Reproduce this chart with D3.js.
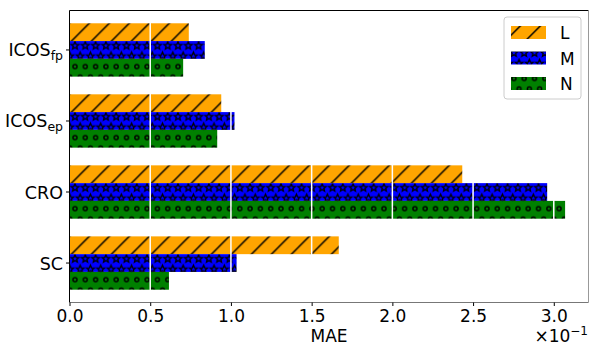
<!DOCTYPE html>
<html>
<head>
<meta charset="utf-8">
<script src="https://cdn.jsdelivr.net/npm/d3@7"></script>
<style>
  body { margin: 0; background: #fff; }
  svg { display: block; font-family: "DejaVu Sans", sans-serif; }
</style>
</head>
<body>
<svg id="chart" width="590" height="346"></svg>
<script>
const categories = ["ICOS_fp", "ICOS_ep", "CRO", "SC"]
const labelMain = ["ICOS", "ICOS", "CRO", "SC"]
const labelSub = ["fp", "ep", "", ""]
const series = ["L", "M", "N"]
const valuesL = [0.739, 0.94, 2.433, 1.668]
const valuesM = [0.838, 1.022, 2.959, 1.035]
const valuesN = [0.704, 0.915, 3.07, 0.616]
const xTicks = [0, 0.5, 1.0, 1.5, 2.0, 2.5, 3.0]

const colors = { L: "#ffa500", M: "#0000ff", N: "#008000" }
const valuesBy = { L: valuesL, M: valuesM, N: valuesN }

const svg = d3.select("#chart")
const pLeft = 69.5, pRight = 588.5, pTop = 10.5, pBottom = 302.5

const x = d3.scaleLinear().domain([0, 3.215]).range([pLeft, pRight])
const y = d3.scaleBand().domain(categories).range([pTop, pBottom])
  .paddingInner(0.249).paddingOuter(0.18)
const ySub = d3.scaleBand().domain(series).range([0, y.bandwidth()])

// hatch patterns
const defs = svg.append("defs")

const slash = defs.append("pattern").attr("id", "pat-L")
  .attr("patternUnits", "userSpaceOnUse")
  .attr("x", 9.3).attr("y", 0).attr("width", 20).attr("height", 20)
slash.append("rect").attr("width", 20).attr("height", 20).attr("fill", colors.L)
slash.selectAll("line").data([[0, 20, 20, 0], [-2, 2, 2, -2], [18, 22, 22, 18]])
  .enter().append("line")
  .attr("x1", d => d[0]).attr("y1", d => d[1])
  .attr("x2", d => d[2]).attr("y2", d => d[3])
  .attr("stroke", "#000").attr("stroke-width", 1.5)

const pw = 10.3, ph = 20.9
const offsets = []
for (let i = -1; i <= 1; i++)
  for (let j = -1; j <= 1; j++) {
    offsets.push([i * pw, j * ph])
    offsets.push([i * pw + pw / 2, j * ph + ph / 2])
  }

const starPath = r => {
  let pts = []
  for (let k = 0; k < 10; k++) {
    let a = -Math.PI / 2 + k * Math.PI / 5
    let rr = k % 2 === 0 ? r : r * 0.45
    pts.push([rr * Math.cos(a), rr * Math.sin(a)])
  }
  return "M" + pts.map(p => p.join(",")).join("L") + "Z"
}

const makeShapes = (id, color, draw) => {
  let p = defs.append("pattern").attr("id", id)
    .attr("patternUnits", "userSpaceOnUse")
    .attr("x", 75).attr("y", 43.3).attr("width", pw).attr("height", ph)
  p.append("rect").attr("width", pw).attr("height", ph).attr("fill", color)
  offsets.forEach(o => draw(p, o))
}

makeShapes("pat-M", colors.M, (p, o) => p.append("path")
  .attr("d", starPath(4))
  .attr("transform", "translate(" + o[0] + "," + o[1] + ")")
  .attr("fill", "none").attr("stroke", "#000").attr("stroke-width", 1.3))

makeShapes("pat-N", colors.N, (p, o) => p.append("circle")
  .attr("cx", o[0]).attr("cy", o[1]).attr("r", 2)
  .attr("fill", "none").attr("stroke", "#000").attr("stroke-width", 1.4))

// bars
const groups = svg.append("g").selectAll("g").data(categories).enter().append("g")
  .attr("transform", d => "translate(0," + y(d) + ")")

groups.selectAll("rect")
  .data((d, i) => series.map(s => ({ s: s, v: valuesBy[s][i] })))
  .enter().append("rect")
  .attr("x", x(0))
  .attr("y", d => ySub(d.s))
  .attr("width", d => x(d.v) - x(0))
  .attr("height", ySub.bandwidth())
  .attr("fill", d => "url(#pat-" + d.s + ")")

// white grid on top of bars
svg.append("g").selectAll("line").data(xTicks.slice(1)).enter().append("line")
  .attr("x1", d => x(d)).attr("x2", d => x(d))
  .attr("y1", pTop).attr("y2", pBottom)
  .attr("stroke", "#fff").attr("stroke-width", 1.5)

// spines
svg.append("line").attr("x1", pLeft).attr("x2", pRight).attr("y1", pTop).attr("y2", pTop)
  .attr("stroke", "#000")
svg.append("line").attr("x1", pLeft).attr("x2", pLeft).attr("y1", pTop).attr("y2", pBottom)
  .attr("stroke", "#000")
svg.append("line").attr("x1", pLeft).attr("x2", pRight).attr("y1", pBottom).attr("y2", pBottom)
  .attr("stroke", "#777")
svg.append("line").attr("x1", pRight).attr("x2", pRight).attr("y1", pTop).attr("y2", pBottom)
  .attr("stroke", "#999")

// x axis
const xAxis = svg.append("g").attr("transform", "translate(0," + pBottom + ")")
  .call(d3.axisBottom(x).tickValues(xTicks).tickFormat(d3.format(".1f"))
    .tickSize(3.5).tickPadding(3.5))
xAxis.select(".domain").remove()
xAxis.selectAll("text").attr("font-size", 17).attr("font-family", "DejaVu Sans")
  .attr("fill", "#000")

svg.append("text").attr("x", (pLeft + pRight) / 2).attr("y", 341.5)
  .attr("text-anchor", "middle").attr("font-size", 17).text("MAE")

const off = svg.append("text").attr("x", 588).attr("y", 341.5)
  .attr("text-anchor", "end").attr("font-size", 17)
off.append("tspan").text("×10")
off.append("tspan").attr("dy", -7).attr("font-size", 12).text("−1")

// y axis
const yAxis = svg.append("g").attr("transform", "translate(" + pLeft + ",0)")
  .call(d3.axisLeft(y).tickSize(3.5).tickFormat(""))
yAxis.select(".domain").remove()

const yl = svg.append("g").selectAll("text").data(categories).enter().append("text")
  .attr("x", 63).attr("y", d => y(d) + y.bandwidth() / 2 + 6.5)
  .attr("text-anchor", "end").attr("font-size", 17.5)
yl.append("tspan").text((d, i) => labelMain[i])
yl.append("tspan").attr("dy", 4).attr("font-size", 12.5).text((d, i) => labelSub[i])

// legend
const lg = svg.append("g")
lg.append("rect").attr("x", 504).attr("y", 17).attr("width", 77).attr("height", 82)
  .attr("rx", 3).attr("fill", "#fff").attr("fill-opacity", 0.8)
  .attr("stroke", "#ccc")
const items = lg.selectAll("g.item").data(series).enter().append("g").attr("class", "item")
  .attr("transform", (d, i) => "translate(511," + (26 + i * 25.5) + ")")
items.append("rect").attr("width", 35).attr("height", 13)
  .attr("fill", d => "url(#pat-" + d + ")")
items.append("text").attr("x", 49).attr("y", 13).attr("font-size", 17).text(d => d)
</script>
</body>
</html>
